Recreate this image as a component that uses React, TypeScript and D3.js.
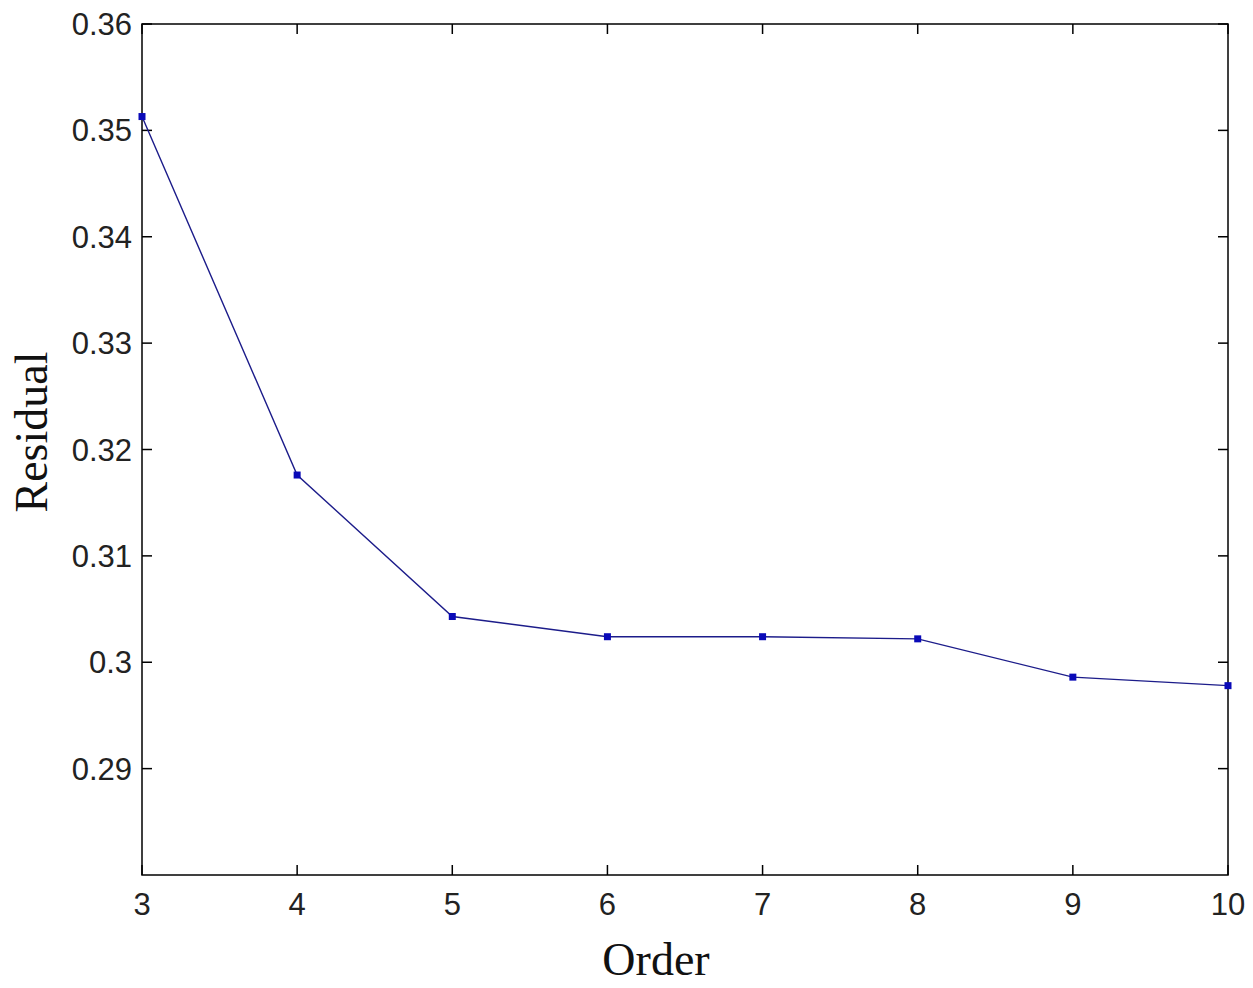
import * as d3 from "d3";
import { useEffect, useRef } from "react";

const orders = [3, 4, 5, 6, 7, 8, 9, 10];
const residuals = [0.3513, 0.3176, 0.3043, 0.3024, 0.3024, 0.3022, 0.2986, 0.2978];
const xTicks = [3, 4, 5, 6, 7, 8, 9, 10];
const yTicks = [0.29, 0.3, 0.31, 0.32, 0.33, 0.34, 0.35, 0.36];

export default function App() {
  const svgRef = useRef<SVGSVGElement>(null);

  useEffect(() => {
    const width = 1253;
    const height = 988;
    const m = { left: 142, right: 25, top: 24, bottom: 113 };

    const svg = d3.select(svgRef.current)
      .attr("width", width)
      .attr("height", height);
    svg.selectAll("*").remove();

    const x = d3.scaleLinear().domain([3, 10]).range([m.left, width - m.right]);
    const y = d3.scaleLinear().domain([0.28, 0.36]).range([height - m.bottom, m.top]);

    svg.append("rect").attr("width", width).attr("height", height).attr("fill", "#fff");

    const tick = 10;
    const axes = svg.append("g").attr("stroke", "#000").attr("stroke-width", 1.5);

    // ticks, inward on all four sides
    xTicks.forEach(t => {
      axes.append("line").attr("x1", x(t)).attr("x2", x(t)).attr("y1", y(0.28)).attr("y2", y(0.28) - tick);
      axes.append("line").attr("x1", x(t)).attr("x2", x(t)).attr("y1", y(0.36)).attr("y2", y(0.36) + tick);
    });
    yTicks.forEach(t => {
      axes.append("line").attr("x1", x(3)).attr("x2", x(3) + tick).attr("y1", y(t)).attr("y2", y(t));
      axes.append("line").attr("x1", x(10)).attr("x2", x(10) - tick).attr("y1", y(t)).attr("y2", y(t));
    });

    // box
    axes.append("rect")
      .attr("x", x(3))
      .attr("y", y(0.36))
      .attr("width", x(10) - x(3))
      .attr("height", y(0.28) - y(0.36))
      .attr("fill", "none");

    // tick labels
    svg.append("g")
      .selectAll("text")
      .data(xTicks)
      .join("text")
      .attr("x", d => x(d))
      .attr("y", y(0.28) + 40)
      .attr("text-anchor", "middle")
      .attr("font-family", "Liberation Sans, Arial, sans-serif")
      .attr("font-size", 31)
      .attr("fill", "#222")
      .text(d => d);

    svg.append("g")
      .selectAll("text")
      .data(yTicks)
      .join("text")
      .attr("x", x(3) - 10)
      .attr("y", d => y(d) + 11)
      .attr("text-anchor", "end")
      .attr("font-family", "Liberation Sans, Arial, sans-serif")
      .attr("font-size", 31)
      .attr("fill", "#222")
      .text(d => (d === 0.3 ? "0.3" : d.toFixed(2)));

    // axis labels
    svg.append("text")
      .attr("x", 656)
      .attr("y", 975)
      .attr("text-anchor", "middle")
      .attr("font-family", "Liberation Serif, Times New Roman, serif")
      .attr("font-size", 46)
      .attr("fill", "#111")
      .text("Order");

    svg.append("text")
      .attr("transform", "translate(47,432) rotate(-90)")
      .attr("text-anchor", "middle")
      .attr("font-family", "Liberation Serif, Times New Roman, serif")
      .attr("font-size", 46)
      .attr("fill", "#111")
      .text("Residual");

    // line
    const data = orders.map((o, i) => ({ o, r: residuals[i] }));
    const line = d3.line<{ o: number; r: number }>()
      .x(d => x(d.o))
      .y(d => y(d.r));

    svg.append("path")
      .datum(data)
      .attr("d", line)
      .attr("fill", "none")
      .attr("stroke", "#1c1c8a")
      .attr("stroke-width", 1.4);

    svg.append("g")
      .selectAll("rect")
      .data(data)
      .join("rect")
      .attr("x", d => x(d.o) - 3.5)
      .attr("y", d => y(d.r) - 3.5)
      .attr("width", 7)
      .attr("height", 7)
      .attr("fill", "#0a0ab8");
  }, []);

  return <svg ref={svgRef} style={{ position: "absolute", left: 0, top: 0 }}></svg>;
}
